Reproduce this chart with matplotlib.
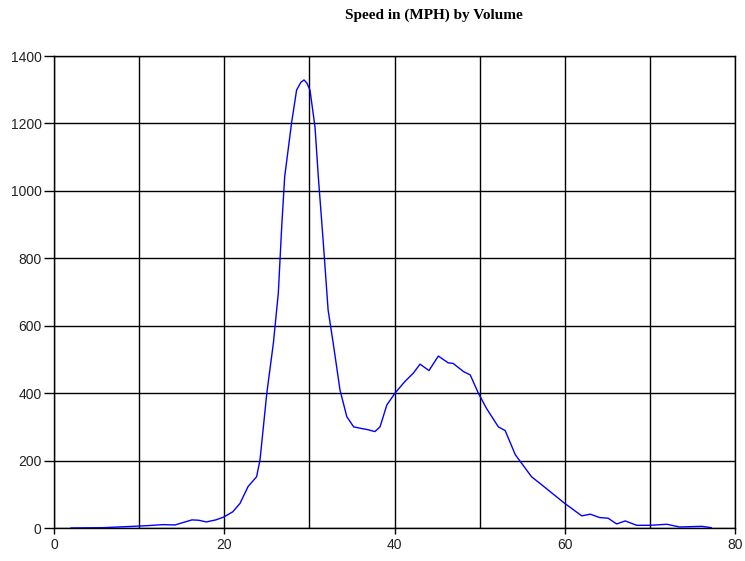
import numpy as np
import matplotlib
matplotlib.use('Agg')
import matplotlib.pyplot as plt

plt.rcParams['font.family'] = ['Liberation Sans', 'DejaVu Sans']

# speed (MPH) and volume
speed = [2, 5.8, 9.3, 11, 12.8, 14.2, 15, 16.2, 17, 17.9, 19, 19.9, 21, 21.85,
         22.8, 23.8, 24.2, 24.4, 25.0, 25.77, 26.35, 26.75, 27.1, 27.5, 27.9,
         28.5, 29.0, 29.37, 29.7, 30.07, 30.66, 31.05, 31.64, 32.2, 32.8, 33.6,
         34.4, 35.2, 35.95, 36.8, 37.7, 38.3, 39.1, 40.06, 41.2, 42.2, 43.0,
         44.05, 45.15, 46.3, 46.9, 48.1, 48.9, 49.85, 50.8, 52.2, 53.0, 54.2,
         56.1, 57.1, 60.0, 62.0, 63.0, 64.1, 65.1, 66.1, 67.1, 68.45, 70, 72.0,
         73.5, 76.1, 77.2]
volume = [0, 1, 5, 7, 10, 9, 15, 24, 23, 18, 24, 32, 48, 73,
          123, 152, 202, 251, 400, 548, 696, 894, 1042, 1121, 1200,
          1299, 1322, 1329, 1320, 1299, 1190, 1042, 845, 647, 548, 409,
          330, 300, 296, 292, 286, 300, 365, 400, 434, 459, 486,
          467, 510, 490, 488, 464, 454, 400, 355, 300, 289, 217,
          152, 132, 73, 36, 41, 31, 29, 12, 21, 8, 8, 11,
          3, 5, 1]

x_ticks = [0, 20, 40, 60, 80]
y_ticks = [0, 200, 400, 600, 800, 1000, 1200, 1400]

fig = plt.figure(figsize=(7.45, 5.61), dpi=100)
ax = fig.add_axes([54/745, 33/561, 681/745, 472/561])

ax.plot(speed, volume, color='#0000ff', linewidth=1.0, zorder=3)

ax.set_xlim(0, 80)
ax.set_ylim(0, 1400)
ax.set_xticks(x_ticks)
ax.set_xticks(np.arange(0, 81, 10), minor=True)
ax.set_yticks(y_ticks)
ax.grid(True, which='both', color='black', linewidth=1.0)
ax.tick_params(axis='y', which='major', length=7, width=1, pad=2,
               labelsize=10, colors='black', labelcolor='#222222')
ax.tick_params(axis='x', which='major', length=4, width=1, pad=3,
               labelsize=10, colors='black', labelcolor='#222222')
ax.tick_params(which='minor', length=0)
for s in ax.spines.values():
    s.set_color('black')
    s.set_linewidth(1.0)

fig.text(434/745, 1 - 15/561, 'Speed in (MPH) by Volume', ha='center', va='center',
         fontsize=11, fontweight='bold', family=['Liberation Serif', 'DejaVu Serif'])

plt.savefig('out.png', dpi=100)
